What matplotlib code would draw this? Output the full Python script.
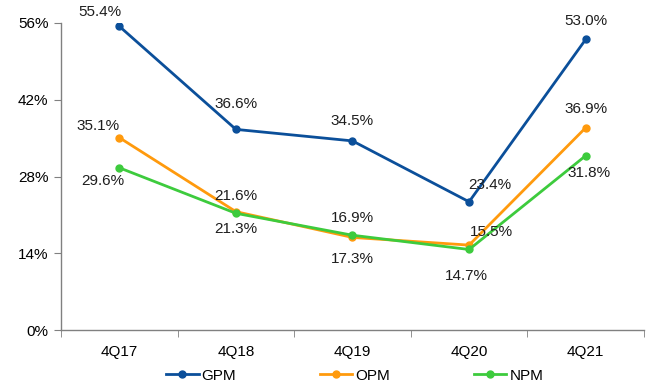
import matplotlib.pyplot as plt

plt.rcParams['font.family'] = ['Liberation Sans', 'DejaVu Sans']

quarters = ["4Q17", "4Q18", "4Q19", "4Q20", "4Q21"]
gpm = [55.4, 36.6, 34.5, 23.4, 53.0]
opm = [35.1, 21.6, 16.9, 15.5, 36.9]
npm = [29.6, 21.3, 17.3, 14.7, 31.8]

# label offsets in pixels (dx, dy) relative to each point
gpm_off = [(-19, 14), (0, 25), (0, 20), (21, 17), (0, 18)]
opm_off = [(-21, 12), (0, 16), (0, 19), (22, 13), (0, 19)]
npm_off = [(-16, -13), (0, -16), (0, -24), (-3, -27), (3, -17)]

c_gpm = "#0B4F9A"
c_opm = "#FF9A0D"
c_npm = "#3DCB3D"

fig = plt.figure(figsize=(6.51, 3.87), dpi=100)
ax = fig.add_axes([0.0937, 0.147, 0.8955, 0.7936])

x = range(len(quarters))
series = [("GPM", gpm, c_gpm, gpm_off), ("OPM", opm, c_opm, opm_off), ("NPM", npm, c_npm, npm_off)]
for name, vals, col, offs in series:
    ax.plot(x, vals, color=col, lw=2.0, marker="o", ms=5, label=name)
for name, vals, col, offs in series:
    for i, v in enumerate(vals):
        ax.annotate(f"{v:.1f}%", (i, v), xytext=offs[i], textcoords="offset pixels",
                    ha="center", va="center", fontsize=11, color="#1E1E1E")

ax.set_xlim(-0.5, len(quarters) - 0.5)
ax.set_ylim(0, 56)
ax.set_yticks([0, 14, 28, 42, 56])
ax.set_yticklabels([f"{t}%" for t in [0, 14, 28, 42, 56]])
ax.set_xticks(list(x))
ax.set_xticklabels(quarters)
ax.set_xticks([i + 0.5 for i in range(-1, len(quarters))], minor=True)
ax.tick_params(axis="x", which="major", length=0, pad=11, labelsize=11)
ax.tick_params(axis="x", which="minor", length=5, color="#808080")
ax.tick_params(axis="y", length=5, color="#808080", labelsize=11, pad=4)

for s in ["top", "right"]:
    ax.spines[s].set_visible(False)
for s in ["left", "bottom"]:
    ax.spines[s].set_color("#808080")
    ax.spines[s].set_linewidth(1.0)

fig.legend(loc="center", bbox_to_anchor=(0.545, 0.029), ncol=3, frameon=False,
           fontsize=11, handlelength=2.1, handletextpad=0.2, columnspacing=5.5)

fig.savefig("out.png", dpi=100)
